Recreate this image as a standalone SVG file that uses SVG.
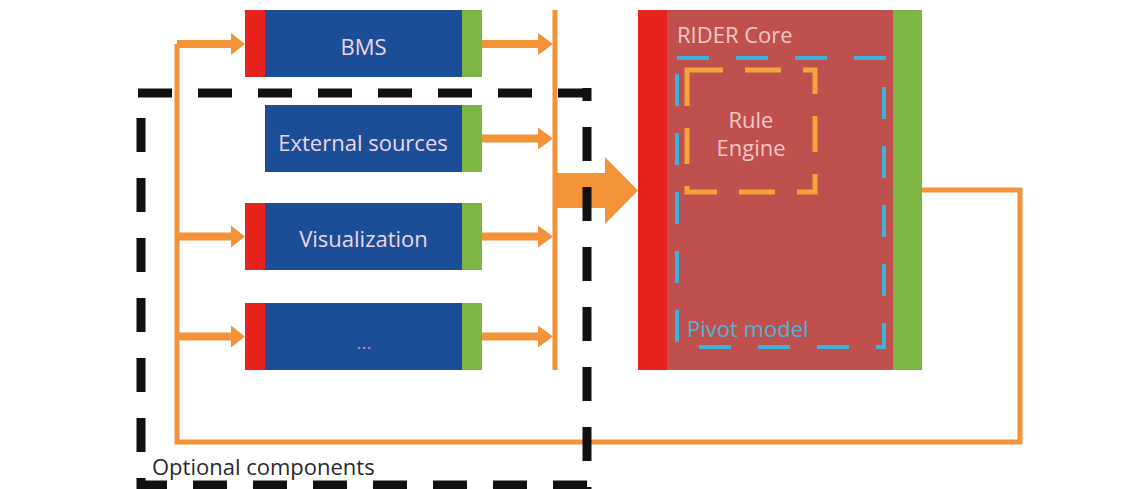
<svg xmlns="http://www.w3.org/2000/svg" width="1143" height="489" viewBox="0 0 1143 489">
  <style>
    .txt { font-family: "Open Sans", "Liberation Sans", sans-serif; font-size: 22px; }
    .blk { fill: #1c4e98; }
    .in { fill: #e8221c; }
    .out { fill: #7db544; }
    .lbl { fill: #ecd6e6; text-anchor: middle; }
    .wire { fill: none; stroke: #f39237; stroke-width: 5; }
    .arrow { fill: #f39237; }
    .frame { fill: none; stroke: #111; stroke-width: 9; stroke-dasharray: 34 26; }
  </style>
  <rect x="0" y="0" width="1143" height="489" fill="#ffffff"/>

  <g id="connectors">
    <!-- left distribution bus and feedback loop -->
    <polyline class="wire" points="177,44 177,442 1020,442 1020,190 922,190"/>
    <!-- right collection bus -->
    <line class="wire" x1="555" y1="10" x2="555" y2="370"/>
    <!-- input arrows -->
    <polygon class="arrow" points="177,40 231,40 231,33 245,44 231,55 231,48 177,48"/>
    <polygon class="arrow" points="177,232.5 231,232.5 231,225.5 245,236.5 231,247.5 231,240.5 177,240.5"/>
    <polygon class="arrow" points="177,332.5 231,332.5 231,325.5 245,336.5 231,347.5 231,340.5 177,340.5"/>
    <!-- output arrows -->
    <polygon class="arrow" points="482,40 538,40 538,33 553,44 538,55 538,48 482,48"/>
    <polygon class="arrow" points="482,134.5 538,134.5 538,127.5 553,138.5 538,149.5 538,142.5 482,142.5"/>
    <polygon class="arrow" points="482,232.5 538,232.5 538,225.5 553,236.5 538,247.5 538,240.5 482,240.5"/>
    <polygon class="arrow" points="482,332.5 538,332.5 538,325.5 553,336.5 538,347.5 538,340.5 482,340.5"/>
    <!-- big arrow into core -->
    <polygon class="arrow" points="557,173 605,173 605,157 638,190.5 605,224 605,208 557,208"/>
  </g>

  <g id="bms">
    <rect class="in" x="245" y="10" width="20" height="67"/>
    <rect class="blk" x="265" y="10" width="197" height="67"/>
    <rect class="out" x="462" y="10" width="20" height="67"/>
    <text class="txt lbl" x="363.5" y="55">BMS</text>
  </g>

  <g id="external-sources">
    <rect class="blk" x="265" y="105" width="197" height="67"/>
    <rect class="out" x="462" y="105" width="20" height="67"/>
    <text class="txt lbl" x="363" y="151">External sources</text>
  </g>

  <g id="visualization">
    <rect class="in" x="245" y="203" width="20" height="67"/>
    <rect class="blk" x="265" y="203" width="197" height="67"/>
    <rect class="out" x="462" y="203" width="20" height="67"/>
    <text class="txt lbl" x="363.5" y="247">Visualization</text>
  </g>

  <g id="more">
    <rect class="in" x="245" y="303" width="20" height="67"/>
    <rect class="blk" x="265" y="303" width="197" height="67"/>
    <rect class="out" x="462" y="303" width="20" height="67"/>
    <text class="txt lbl" x="364" y="349" style="font-size:19px; fill:#d98aa8">...</text>
  </g>

  <g id="rider-core">
    <rect class="in" x="638" y="10" width="29" height="360"/>
    <rect x="667" y="10" width="226" height="360" fill="#c0504d"/>
    <rect class="out" x="893" y="10" width="29" height="360"/>
    <text class="txt" x="677" y="43" fill="#f0c8c8">RIDER Core</text>
    <g id="pivot-model">
      <rect x="677" y="58" width="207" height="289" fill="none" stroke="#3ab4d8" stroke-width="4" stroke-dasharray="32 27"/>
      <text class="txt" x="687" y="337" fill="#4cb4d6">Pivot model</text>
    </g>
    <g id="rule-engine">
      <rect x="687" y="70" width="128" height="122" fill="none" stroke="#f4a43a" stroke-width="5" stroke-dasharray="36 22"/>
      <text class="txt" x="751" y="128" fill="#f0c8c8" text-anchor="middle">Rule</text>
      <text class="txt" x="751" y="156" fill="#f0c8c8" text-anchor="middle">Engine</text>
    </g>
  </g>

  <g id="optional-components">
    <line class="frame" x1="138" y1="93" x2="591" y2="93"/>
    <line class="frame" x1="587" y1="88" x2="587" y2="489" stroke-dashoffset="21"/>
    <line class="frame" x1="141" y1="93" x2="141" y2="489" stroke-dashoffset="35"/>
    <line class="frame" x1="137" y1="485" x2="591" y2="485" stroke-dashoffset="4"/>
    <text class="txt" x="152" y="475" fill="#2a2a2a">Optional components</text>
  </g>
</svg>
